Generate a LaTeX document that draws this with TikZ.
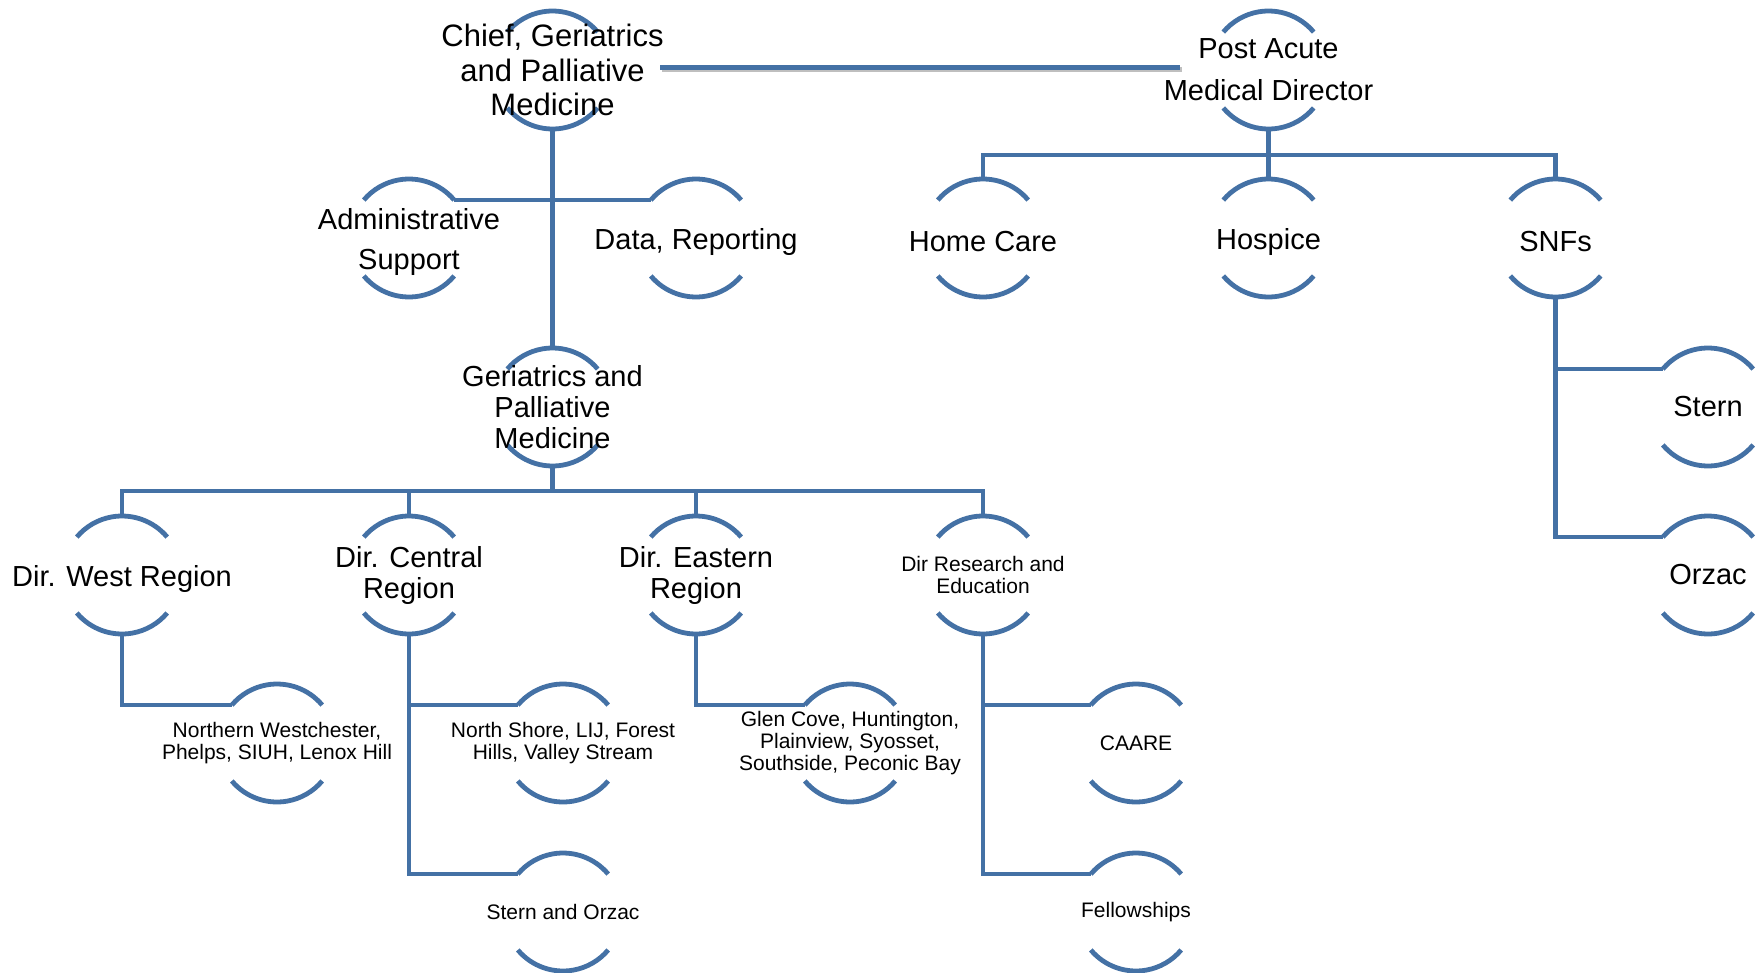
\documentclass[tikz,border=0pt]{standalone}
\usepackage{fontspec}
\setmainfont{Liberation Sans}
\usetikzlibrary{calc}
\definecolor{orgblue}{RGB}{68,113,165}
\newcommand\orgnode[5]{%
  \node[shp] (#1) at (#2,-#3) {};
  \draw[ln] (#1.40) arc[start angle=40,end angle=140,radius=59pt];
  \draw[ln] (#1.220) arc[start angle=220,end angle=320,radius=59pt];
  \node[#4] (#1-t) at (#1) {#5};
}
\begin{document}
\begin{tikzpicture}[x=1pt,y=1pt,
  ln/.style={draw=orgblue, line width=4.8pt},
  shp/.style={circle, minimum size=118pt, inner sep=0pt, outer sep=0pt},
  big/.style={align=center, inner sep=0pt, font=\fontsize{29pt}{31pt}\selectfont},
  small/.style={align=center, inner sep=0pt, font=\fontsize{21pt}{22pt}\selectfont},
  down/.style={yshift=-3.5pt}]
\useasboundingbox (0,0) rectangle (1761,-972);

% level 0
\orgnode{chief}{552.5}{70}{big, font=\fontsize{31pt}{34.5pt}\selectfont}{Chief, Geriatrics\\and Palliative\\Medicine}
\orgnode{post}{1268.5}{70}{big, font=\fontsize{29pt}{42pt}\selectfont}{Post Acute\\Medical Director}
% level 1
\orgnode{admin}{409}{238}{big, down, font=\fontsize{29pt}{40pt}\selectfont}{Administrative\\Support}
\orgnode{data}{696}{238}{big, down}{Data, Reporting}
\orgnode{home}{983}{238}{big, down}{Home Care}
\orgnode{hospice}{1268.5}{238}{big, down}{Hospice}
\orgnode{snfs}{1555.5}{238}{big, down}{SNFs}
% level 2
\orgnode{geri}{552.5}{407}{big}{Geriatrics and\\Palliative\\Medicine}
\orgnode{stern}{1708}{407}{big}{Stern}
% level 3
\orgnode{west}{122}{575}{big, down}{Dir. West Region}
\orgnode{central}{409}{575}{big}{Dir. Central\\Region}
\orgnode{eastern}{696}{575}{big}{Dir. Eastern\\Region}
\orgnode{research}{983}{575}{small}{Dir Research and\\Education}
\orgnode{orzac}{1708}{575}{big}{Orzac}
% level 4
\orgnode{nw}{277}{743}{small}{Northern Westchester,\\Phelps, SIUH, Lenox Hill}
\orgnode{ns}{563}{743}{small}{North Shore, LIJ, Forest\\Hills, Valley Stream}
\orgnode{gc}{850}{743}{small}{Glen Cove, Huntington,\\Plainview, Syosset,\\Southside, Peconic Bay}
\orgnode{caare}{1136}{743}{small}{CAARE}
% level 5
\orgnode{ss}{563}{912}{small}{Stern and Orzac}
\orgnode{fell}{1136}{912}{small}{Fellowships}

% Chief - Post Acute link with shadow
\coordinate (cpA) at (660,-67);
\coordinate (cpB) at (1180,-67);
\draw[line width=5pt, draw=black!25] ($(cpA)+(1.5,-2)$) -- ($(cpB)+(1.5,-2)$);
\draw[ln, line width=5pt] (cpA) -- (cpB);

% chief branch
\draw[ln] (chief.south) -- (geri.north);
\draw[ln] (admin.40) -- (data.140);

% geriatrics bus
\coordinate (bus1) at (552.5,-491);
\draw[ln] (geri.south) -- (bus1);
\draw[ln, line join=miter] (west.north) -- (west.north |- bus1) -- (research.north |- bus1) -- (research.north);
\draw[ln] (central.north) -- (central.north |- bus1);
\draw[ln] (eastern.north) -- (eastern.north |- bus1);

% post acute bus
\coordinate (bus2) at (1268.5,-155);
\draw[ln] (post.south) -- (hospice.north);
\draw[ln, line join=miter] (home.north) -- (home.north |- bus2) -- (snfs.north |- bus2) -- (snfs.north);

% level 3 -> 4
\draw[ln, line join=miter] (west.south) |- (nw.140);
\draw[ln, line join=miter] (central.south) |- (ss.140);
\draw[ln] (central.south |- ns.140) -- (ns.140);
\draw[ln, line join=miter] (eastern.south) |- (gc.140);
\draw[ln, line join=miter] (research.south) |- (fell.140);
\draw[ln] (research.south |- caare.140) -- (caare.140);
\draw[ln, line join=miter] (snfs.south) |- (orzac.140);
\draw[ln] (snfs.south |- stern.140) -- (stern.140);
\end{tikzpicture}
\end{document}
